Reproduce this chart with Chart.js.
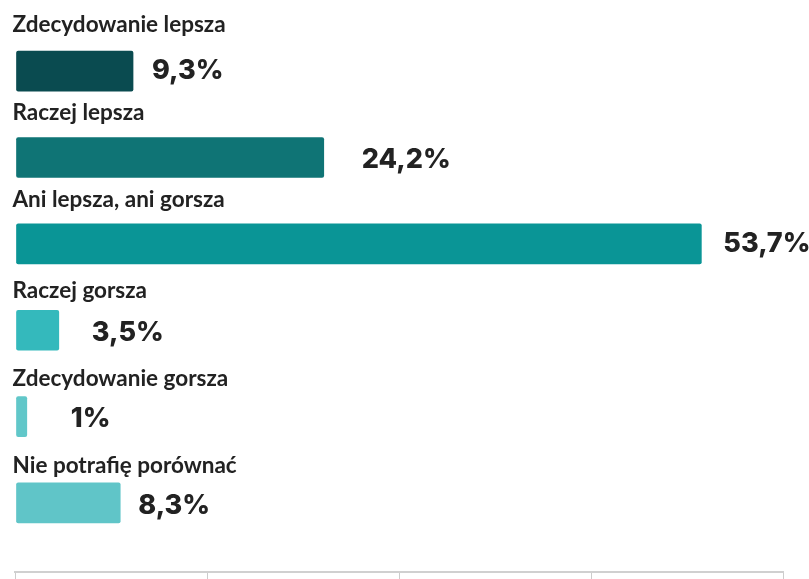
<!DOCTYPE html>
<html>
<head>
<meta charset="utf-8">
<script src="https://cdn.jsdelivr.net/npm/chart.js@4/dist/chart.umd.min.js"></script>
<style>
    body { margin: 0; background: #fff; }
    #wrap { width: 809px; height: 579px; }
</style>
</head>
<body>
<div id="wrap"><canvas id="chart"></canvas></div>
<script>
/* data */
var categories = ["Zdecydowanie lepsza", "Raczej lepsza", "Ani lepsza, ani gorsza",
                  "Raczej gorsza", "Zdecydowanie gorsza", "Nie potrafię porównać"];
var values = [9.3, 24.2, 53.7, 3.5, 1, 8.3];
var barColors = ["#0a4b50", "#0f7475", "#0a9596", "#34b9bc", "#61c7c9", "#60c5c8"];
var xTicks = [0, 15, 30, 45, 60];

function fmt(v) {
    return String(v).replace('.', ',') + '%';
};

/* labels above each bar + value to the right */
var barLabels = {
    id: 'barLabels',
    afterDatasetsDraw: function (chart, args, opts) {
        var ctx = chart.ctx;
        var meta = chart.getDatasetMeta(0);
        ctx.save();
        ctx.fillStyle = '#222';
        ctx.textBaseline = 'middle';
        ctx.textAlign = 'left';
        meta.data.forEach(function (bar, i) {
            ctx.font = 'bold 22.5px Lato';
            ctx.fillText(categories[i], 12.5, bar.y - opts.labelLift[i]);
            ctx.font = '800 27px Inter';
            ctx.fillText(fmt(values[i]), bar.x + opts.gaps[i], bar.y + opts.valueDrop[i]);
        });
        ctx.restore();
    }
};

function createChart() {
    new Chart(document.getElementById('chart'), {
        type: 'bar',
        data: {
            labels: categories,
            datasets: [{
                data: values.map(function (v, i) { return {x: v, y: i}; }),
                backgroundColor: barColors,
                borderColor: 'rgba(255,255,255,0.45)',
                borderWidth: 1,
                borderRadius: 3,
                borderSkipped: false,
                barThickness: 42
            }]
        },
        options: {
            indexAxis: 'y',
            responsive: true,
            maintainAspectRatio: false,
            animation: false,
            layout: { padding: { left: 15, right: 26, top: 28, bottom: 0 } },
            scales: {
                x: {
                    type: 'linear',
                    min: 0,
                    max: 60,
                    afterBuildTicks: function (axis) {
                        axis.ticks = xTicks.map(function (v) { return {value: v}; });
                    },
                    ticks: { display: false },
                    grid: { drawOnChartArea: false, drawTicks: true, tickLength: 7, color: '#cccccc', lineWidth: 1 },
                    border: { color: '#d0d0d0', width: 2 }
                },
                y: {
                    type: 'linear',
                    reverse: true,
                    offset: false,
                    min: -0.5,
                    max: 5.8,
                    display: false
                }
            },
            plugins: {
                legend: { display: false },
                tooltip: { enabled: false },
                barLabels: {
                    gaps: [18, 37, 21, 32, 43, 17],
                    labelLift: [46, 45, 44, 39, 38, 37],
                    valueDrop: [0, 2, 0, 3, 2, 3]
                }
            }
        },
        plugins: [barLabels]
    });
};

document.fonts.load('bold 22.5px Lato').then(function () {
    return document.fonts.load('800 27px Inter');
}).then(createChart, createChart);
</script>
</body>
</html>
